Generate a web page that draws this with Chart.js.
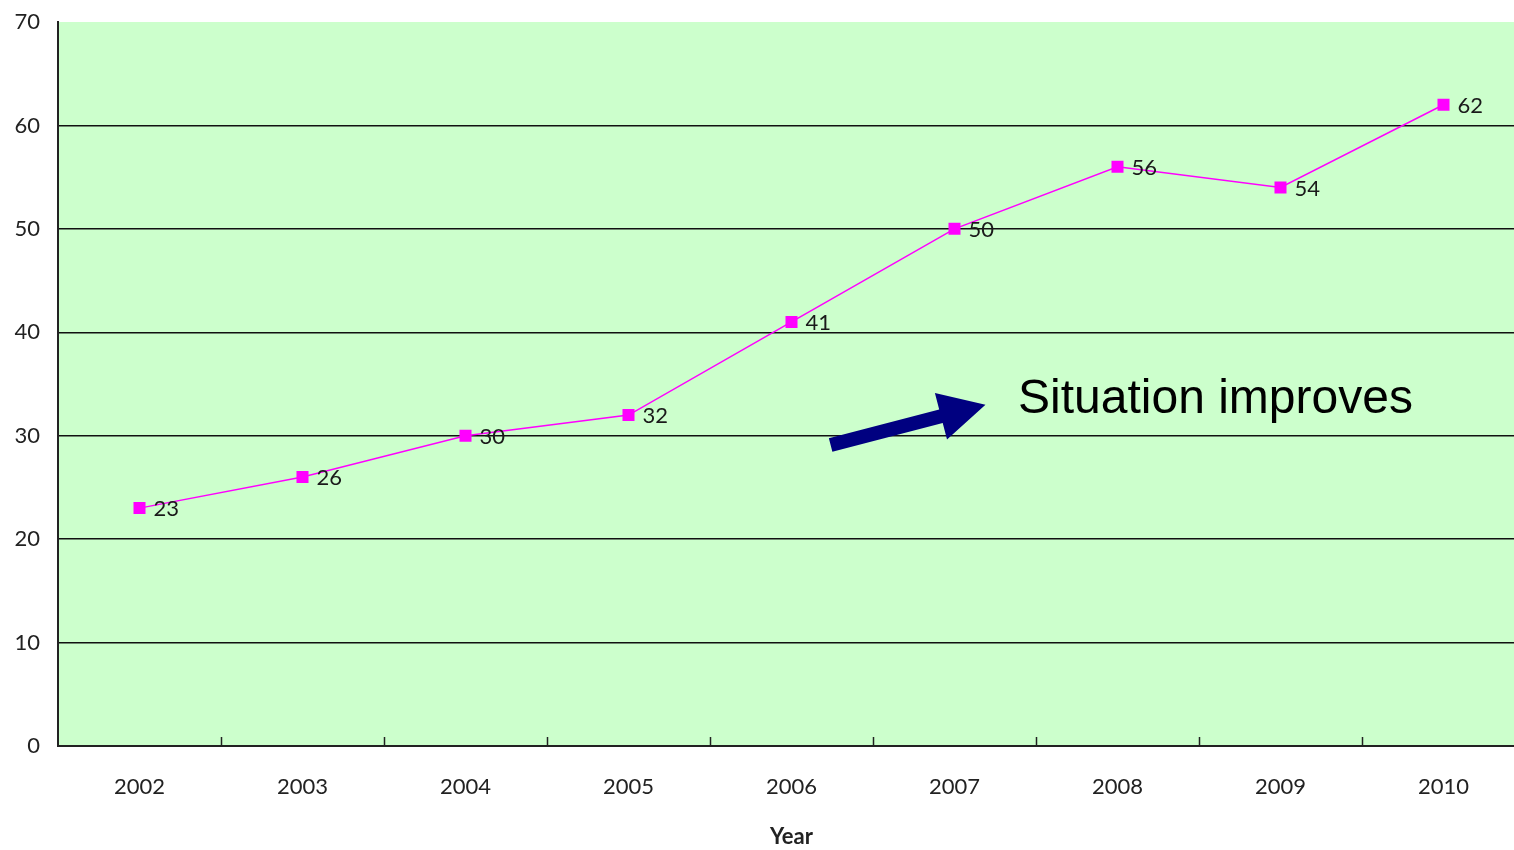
<!DOCTYPE html>
<html>
<head>
<meta charset="utf-8">
<script src="https://cdn.jsdelivr.net/npm/chart.js@4/dist/chart.umd.min.js"></script>
<style>
  html, body { margin: 0; padding: 0; background: #fff; overflow: hidden; width: 1514px; height: 850px; }
  canvas { display: block; }
</style>
</head>
<body>
<!-- The plot area runs slightly past the right edge of the page -->
<canvas id="c" width="1525" height="850" style="width:1525px;height:850px"></canvas>
<script>
// Yearly values
const years = ['2002', '2003', '2004', '2005', '2006', '2007', '2008', '2009', '2010'];
const values = [23, 26, 30, 32, 41, 50, 56, 54, 62];
const yTicks = [0, 10, 20, 30, 40, 50, 60, 70];

// Arrow annotation in data units (category index, value)
const arrowFrom = [4.24, 29.1];
const arrowTo = [5.19, 33.0];
const noteText = 'Situation improves';
const notePos = [5.39, 33.5];

const LABEL_FONT = '"Lato", "Open Sans", sans-serif';

// Green plot background
const plotBg = {
  id: 'plotBg',
  beforeDraw(chart) {
    const { ctx, chartArea: a } = chart;
    ctx.save();
    ctx.fillStyle = '#ffffff';
    ctx.fillRect(0, 0, chart.width, chart.height);
    ctx.fillStyle = '#ccffcc';
    ctx.fillRect(a.left, a.top, a.right - a.left, a.bottom - a.top);
    ctx.restore();
  }
};

// Category separator ticks pointing up from the x axis
const innerTicks = {
  id: 'innerTicks',
  afterDatasetsDraw(chart) {
    const { ctx, chartArea: a, scales: { x } } = chart;
    const half = (x.getPixelForValue(1) - x.getPixelForValue(0)) / 2;
    ctx.save();
    ctx.strokeStyle = '#222';
    ctx.lineWidth = 1.5;
    for (let i = 0; i < years.length - 1; i++) {
      const px = Math.round(x.getPixelForValue(i) + half) + 0.5;
      ctx.beginPath();
      ctx.moveTo(px, a.bottom);
      ctx.lineTo(px, a.bottom - 9);
      ctx.stroke();
    }
    ctx.restore();
  }
};

// Value labels to the right of each point
const valueLabels = {
  id: 'valueLabels',
  afterDatasetsDraw(chart) {
    const { ctx } = chart;
    const meta = chart.getDatasetMeta(0);
    ctx.save();
    ctx.font = '22px ' + LABEL_FONT;
    ctx.fillStyle = '#1a1a1a';
    ctx.textAlign = 'left';
    ctx.textBaseline = 'middle';
    meta.data.forEach((pt, i) => {
      ctx.fillText(String(values[i]), pt.x + 14, pt.y + 1);
    });
    ctx.restore();
  }
};

// Arrow and note
const annotation = {
  id: 'annotation',
  afterDatasetsDraw(chart) {
    const { ctx, scales: { x, y } } = chart;
    const x0 = x.getPixelForValue(arrowFrom[0]), y0 = y.getPixelForValue(arrowFrom[1]);
    const x1 = x.getPixelForValue(arrowTo[0]), y1 = y.getPixelForValue(arrowTo[1]);
    const ang = Math.atan2(y1 - y0, x1 - x0);
    const len = Math.hypot(x1 - x0, y1 - y0);
    const headLen = 46, headW = 24, shaftW = 7;
    ctx.save();
    ctx.translate(x0, y0);
    ctx.rotate(ang);
    ctx.fillStyle = '#000080';
    ctx.beginPath();
    ctx.moveTo(0, -shaftW);
    ctx.lineTo(len - headLen, -shaftW);
    ctx.lineTo(len - headLen, -headW);
    ctx.lineTo(len, 0);
    ctx.lineTo(len - headLen, headW);
    ctx.lineTo(len - headLen, shaftW);
    ctx.lineTo(0, shaftW);
    ctx.closePath();
    ctx.fill();
    ctx.restore();

    ctx.save();
    ctx.font = '48px "Liberation Sans", Arial, sans-serif';
    ctx.fillStyle = '#000';
    ctx.textAlign = 'left';
    ctx.textBaseline = 'middle';
    ctx.fillText(noteText, x.getPixelForValue(notePos[0]), y.getPixelForValue(notePos[1]));
    ctx.restore();
  }
};

new Chart(document.getElementById('c'), {
  type: 'line',
  data: {
    labels: years,
    datasets: [{
      data: values,
      borderColor: '#ff00ff',
      borderWidth: 1.5,
      backgroundColor: '#ff00ff',
      pointStyle: 'rect',
      pointRadius: 8.5,
      pointHoverRadius: 8.5,
      pointBorderWidth: 0,
      tension: 0
    }]
  },
  options: {
    responsive: false,
    devicePixelRatio: 1,
    animation: false,
    events: [],
    layout: { autoPadding: false, padding: { left: 0, right: 0, top: 22, bottom: 0 } },
    plugins: { legend: { display: false }, tooltip: { enabled: false } },
    scales: {
      x: {
        type: 'category',
        offset: true,
        grid: { display: false, drawTicks: false },
        border: { display: true, color: '#222', width: 2 },
        ticks: { color: '#222', font: { family: LABEL_FONT, size: 22 }, padding: 28 },
        title: { display: true, text: 'Year', color: '#222', font: { family: LABEL_FONT, size: 22, weight: 'bold' }, padding: { top: 14, bottom: 0 } },
        afterFit(s) { s.height = 104; s.paddingLeft = 0; s.paddingRight = 0; }
      },
      y: {
        min: 0,
        max: 70,
        afterBuildTicks(s) { s.ticks = yTicks.map(v => ({ value: v })); },
        grid: {
          color: c => (c.tick && c.tick.value === 70 ? 'rgba(0,0,0,0)' : '#111'),
          lineWidth: 1.5,
          drawTicks: false
        },
        border: { display: true, color: '#222', width: 2 },
        ticks: { color: '#222', font: { family: LABEL_FONT, size: 22 }, padding: 18 },
        afterFit(s) { s.width = 58; s.paddingTop = 0; s.paddingBottom = 0; }
      }
    }
  },
  plugins: [plotBg, innerTicks, valueLabels, annotation]
});
</script>
</body>
</html>
